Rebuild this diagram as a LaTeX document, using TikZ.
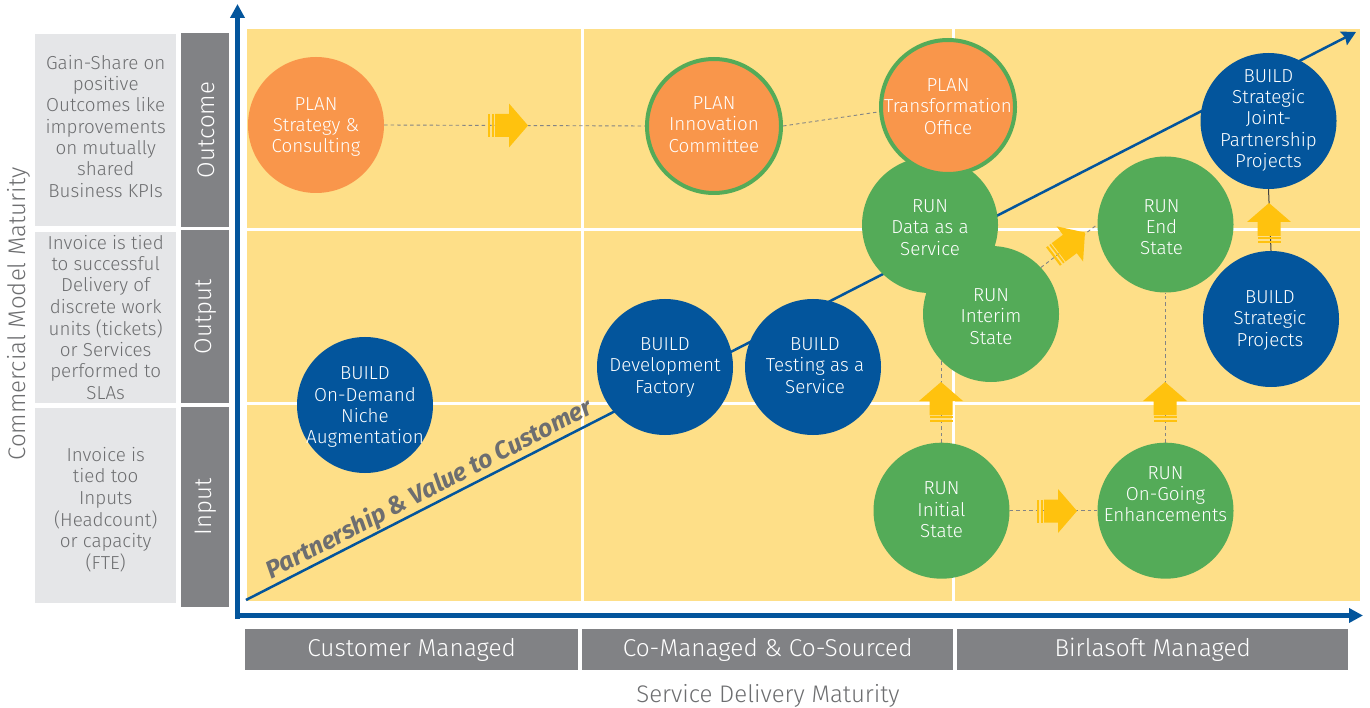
\documentclass[tikz,border=0pt]{standalone}
\usepackage{fontspec}
\setmainfont{Fira Sans Light}[BoldFont={Fira Sans Bold},BoldItalicFont={Fira Sans Bold Italic}]
\usetikzlibrary{arrows.meta}
\definecolor{cellY}{HTML}{FEDF88}
\definecolor{orangeC}{HTML}{F9964B}
\definecolor{greenC}{HTML}{54AB58}
\definecolor{blueC}{HTML}{03559C}
\definecolor{greyD}{HTML}{818285}
\definecolor{greyL}{HTML}{E5E6E8}
\definecolor{arrowY}{HTML}{FFC20E}
\definecolor{txtD}{HTML}{6D6E70}
\pgfdeclarelayer{cells}\pgfdeclarelayer{links}
\pgfsetlayers{cells,links,main}
\newcommand{\ctext}[2][0pt]{\makebox[0pt]{\raisebox{#1}[0pt][0pt]{\begin{tabular}[c]{@{}c@{}}#2\end{tabular}}}}
\newcommand{\nudge}[2]{\makebox[0pt]{\kern#1\relax#2}}
\tikzset{
 x=1pt,y=-1pt,
 circ/.style={circle,inner sep=0pt,minimum size=136pt,text=white,font=\fontsize{18.8}{21.3}\selectfont},
 plancirc/.style={circ,fill=orangeC},
 plangreen/.style={circ,fill=orangeC,draw=greenC,line width=4pt,minimum size=134pt},
 runcirc/.style={circ,fill=greenC},
 buildcirc/.style={circ,fill=blueC},
 darkbar/.style={fill=greyD,inner sep=0pt,text=white,font=\fontsize{24.4}{26}\selectfont,anchor=north west},
 vbar/.style={rotate=90,text=white,font=\fontsize{24}{26}\selectfont},
 lightbox/.style={fill=greyL,inner sep=0pt,text=txtD,font=\fontsize{18.8}{21.3}\selectfont,anchor=north west},
 dashlink/.style={draw=txtD!85,line width=0.9pt,dash pattern=on 3.5pt off 3pt},
 axisline/.style={draw=blueC,line width=5pt,-{Triangle[length=14pt,width=14pt]}},
 diagline/.style={draw=blueC,line width=2.5pt,-{Stealth[length=14pt,width=15pt,inset=2pt]}},
 title/.style={text=txtD,font=\fontsize{24}{26}\selectfont},
}
\newcommand{\blockarrow}[3]{%
 \begin{scope}[shift={(#1,#2)},rotate=#3]
  \fill[arrowY] (0,0)--(-19,-22)--(-19,-11.5)--(-33,-11.5)--(-33,11.5)--(-19,11.5)--(-19,22)--cycle;
  \fill[arrowY] (-36,-11.5) rectangle (-34.2,11.5);
  \fill[arrowY] (-40,-11.5) rectangle (-37.8,11.5);
 \end{scope}}
\begin{document}
\begin{tikzpicture}
\useasboundingbox (0,0) rectangle (1370,708);
\begin{pgfonlayer}{cells}
\fill[white] (0,0) rectangle (1370,708);
\fill[cellY] (247,29) rectangle (1360,601);
\draw[white,line width=3pt] (582,29)--(582,601) (953,29)--(953,601) (247,229.5)--(1360,229.5) (247,403.5)--(1360,403.5);
\end{pgfonlayer}

% side boxes
\node[lightbox,minimum width=141pt,minimum height=192pt] (l1) at (35,34) {\ctext[-3pt]{Gain-Share on\\positive\\Outcomes like\\improvements\\on mutually\\shared\\Business KPIs}};
\node[lightbox,minimum width=141pt,minimum height=171pt] (l2) at (35,232) {\ctext[-6.5pt]{Invoice is tied\\to successful\\Delivery of\\discrete work\\units (tickets)\\or Services\\performed to\\SLAs}};
\node[lightbox,minimum width=141pt,minimum height=195pt] (l3) at (35,408) {\ctext[-10pt]{Invoice is\\tied too\\Inputs\\(Headcount)\\or capacity\\(FTE)}};
\fill[greyD] (181,33) rectangle (229,227);
\fill[greyD] (181,230) rectangle (229,403);
\fill[greyD] (181,407) rectangle (229,607);
\node[vbar] (o1) at (206,130) {Outcome};
\node[vbar] (o2) at (206,317) {Output};
\node[vbar] (o3) at (206,507) {Input};
\node[darkbar,minimum width=333pt,minimum height=41pt] (b1) at (245,629) {Customer Managed};
\node[darkbar,minimum width=371pt,minimum height=41pt] (b2) at (582,629) {Co-Managed \& Co-Sourced};
\node[darkbar,minimum width=391pt,minimum height=41pt] (b3) at (957,629) {Birlasoft Managed};
\node[title] (tx) at (768,696) {Service Delivery Maturity};
\node[title,rotate=90] (ty) at (19,314) {Commercial Model Maturity};

% axes
\coordinate (ax0) at (237.5,619);
\coordinate (axtop) at (237.5,4);
\coordinate (ay0) at (235,615.5);
\coordinate (axright) at (1363,615.5);
\draw[axisline] (ax0)--(axtop);
\draw[axisline] (ay0)--(axright);

% circles
\node[plancirc] (strategy) at (316,125) {\ctext[-6.5pt]{PLAN\\Strategy \&\\Consulting}};
\node[plangreen] (innov) at (714,126) {\ctext[-5pt]{PLAN\\Innovation\\Committee}};
\node[runcirc] (data) at (930,225) {\ctext[-9pt]{RUN\\Data as a\\Service}};
\node[runcirc] (interim) at (991,314) {\ctext[-9pt]{RUN\\Interim\\State}};
\node[plangreen] (transf) at (948,107) {\ctext[-6pt]{PLAN\\Transformation\\Office}};
\node[runcirc] (endst) at (1165.5,224.5) {\nudge{-8pt}{\ctext[-9pt]{RUN\\End\\State}}};
\node[buildcirc] (joint) at (1268.5,121) {\ctext[-4pt]{BUILD\\Strategic\\Joint-\\Partnership\\Projects}};
\node[buildcirc] (stratp) at (1271,319) {\nudge{-2pt}{\ctext[-6pt]{BUILD\\Strategic\\Projects}}};
\node[runcirc] (initial) at (941.5,510.7) {\ctext[-5.5pt]{RUN\\Initial\\State}};
\node[runcirc] (ongoing) at (1165.5,510.7) {\ctext[10pt]{RUN\\On-Going\\Enhancements}};
\node[buildcirc] (dev) at (665,367) {\ctext[-5pt]{BUILD\\Development\\Factory}};
\node[buildcirc] (test) at (813,367) {\nudge{4pt}{\ctext[-5pt]{BUILD\\Testing as a\\Service}}};
\node[buildcirc] (demand) at (365,405) {\ctext[-7pt]{BUILD\\On-Demand\\Niche\\Augmentation}};

\begin{pgfonlayer}{links}
\coordinate (d0) at (246,600);
\coordinate (d1) at (1356,32);
\draw[diagline] (d0)--(d1);
\draw[dashlink] (strategy.east)--(innov.west);
\draw[dashlink] (innov.east)--(transf.184);
\draw[dashlink] (initial.east)--(ongoing.west);
\draw[dashlink] (initial.north)--(initial.north |- interim.center);
\draw[dashlink] (ongoing.north)--(endst.south);
\draw[dashlink] (interim.43)--(endst.west);
\draw[draw=black!75,line width=1pt] (joint.south)--(stratp.north);
\end{pgfonlayer}

\node[rotate=27.3,text=txtD,font=\fontsize{24.8}{27}\bfseries\itshape\selectfont] (pv) at (429.5,489.5) {Partnership \& Value to Customer};

\blockarrow{528}{125.5}{0}
\blockarrow{1077}{511}{0}
\blockarrow{941}{382}{90}
\blockarrow{1165}{382}{90}
\blockarrow{1269}{203}{90}
\blockarrow{1085}{232.5}{37}
\end{tikzpicture}
\end{document}
